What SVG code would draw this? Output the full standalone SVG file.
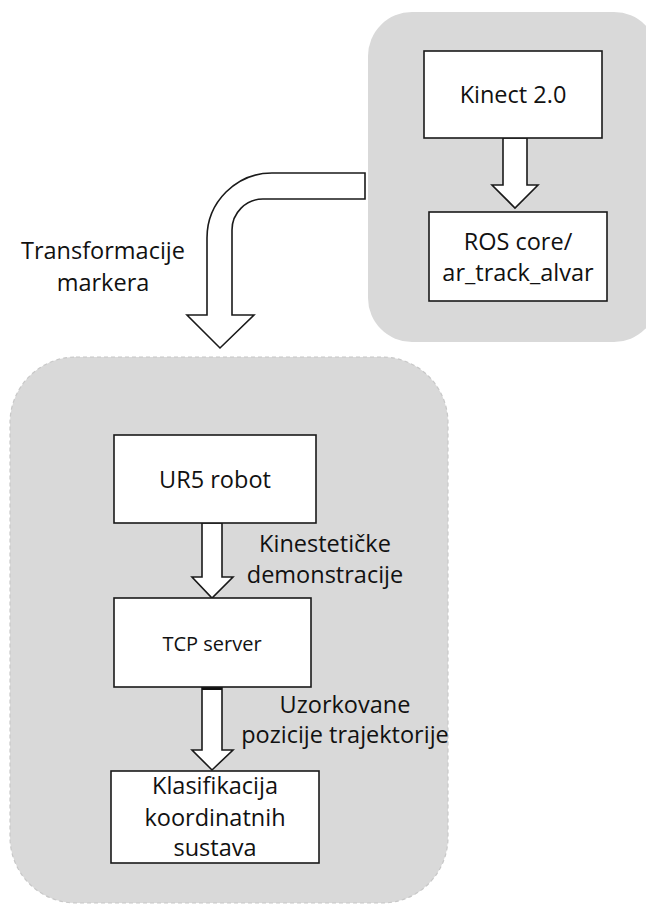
<svg xmlns="http://www.w3.org/2000/svg" width="646" height="905" viewBox="0 0 646 905">
<style>
.panel{fill:#d9d9d9}
.box{fill:#fff;stroke:#1a1a1a;stroke-width:1.6}
.arr{fill:#fff;stroke:#1a1a1a;stroke-width:1.6;stroke-linejoin:miter}
text{font-family:"Open Sans","Noto Sans",sans-serif;fill:#111;text-anchor:middle}
.t{font-size:23.5px}
.s{font-size:20px}
</style>
<rect width="646" height="905" fill="#fff"/>
<g id="sensor-panel">
<rect class="panel" x="368" y="12" width="290" height="330" rx="44" ry="44"/>
</g>
<g id="robot-panel">
<rect class="panel" x="10" y="357" width="438" height="546" rx="66" ry="66" stroke="#c8c8c8" stroke-width="1.2" stroke-dasharray="4 3"/>
</g>
<g id="connectors">
<path class="arr" d="M503 138 L503 185 L492 185 L515 208 L538 185 L527 185 L527 138 Z"/>
<path class="arr" d="M365 173 L272 173 A65 65 0 0 0 207 238 L207 315 L187 315 L220 348 L254 315 L232 315 L232 230 A31 31 0 0 1 263 199 L365 199 Z"/>
<path class="arr" d="M202 523 L202 577 L192 577 L212 598 L233 577 L222 577 L222 523 Z"/>
<path class="arr" d="M202 687 L202 750 L192 750 L212 770 L233 750 L222 750 L222 687 Z"/>
<line x1="202" y1="688.5" x2="222" y2="688.5" stroke="#111" stroke-width="3"/>
<text class="t" x="103" y="259">Transformacije</text>
<text class="t" x="103" y="291">markera</text>
<text class="t" x="325" y="552">Kinestetičke</text>
<text class="t" x="325" y="583">demonstracije</text>
<text class="t" x="345" y="713">Uzorkovane</text>
<text class="t" x="345" y="743">pozicije trajektorije</text>
</g>
<g id="kinect">
<rect class="box" x="424" y="51" width="178" height="87"/>
<text class="t" x="513" y="103">Kinect 2.0</text>
</g>
<g id="ros">
<rect class="box" x="429" y="212" width="178" height="89"/>
<text class="t" x="518" y="250">ROS core/</text>
<text class="t" x="518" y="281">ar_track_alvar</text>
</g>
<g id="ur5">
<rect class="box" x="114" y="435" width="202" height="88"/>
<text class="t" x="215" y="488">UR5 robot</text>
</g>
<g id="tcp">
<rect class="box" x="114" y="598" width="197" height="89"/>
<text class="s" x="212" y="651">TCP server</text>
</g>
<g id="klasifikacija">
<rect class="box" x="111" y="771" width="208" height="92"/>
<text class="t" x="215" y="794">Klasifikacija</text>
<text class="t" x="215" y="826">koordinatnih</text>
<text class="t" x="215" y="856">sustava</text>
</g>
</svg>
